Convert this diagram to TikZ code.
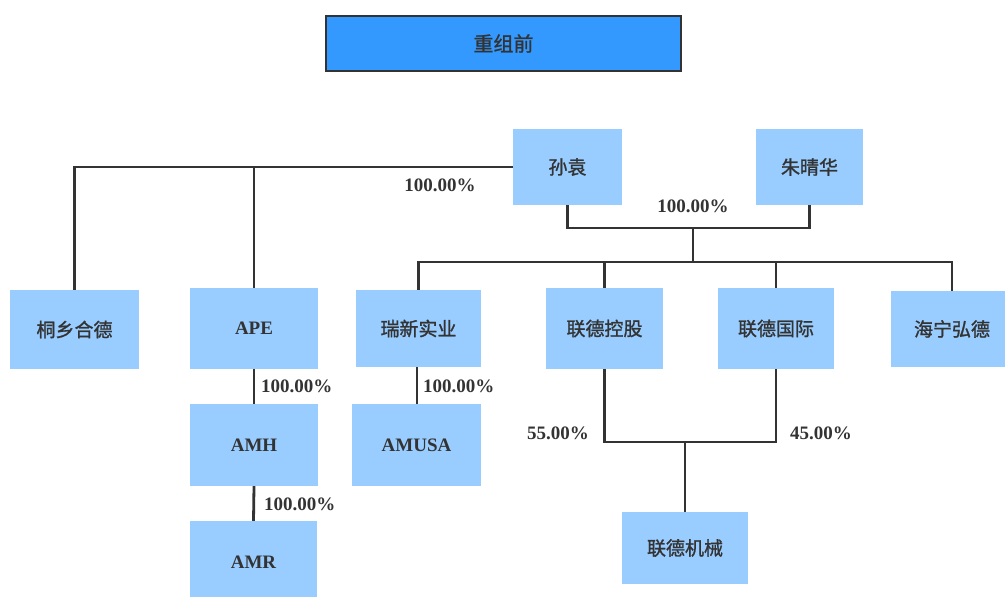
\documentclass[tikz,border=0pt]{standalone}
\usepackage{fontspec}
\setmainfont{Liberation Serif}
\newfontfamily\cjk[FakeBold=1.2]{Noto Sans CJK SC}
\definecolor{boxblue}{HTML}{99CCFF}
\definecolor{titleblue}{HTML}{3399FF}
\definecolor{inkgray}{HTML}{333333}

\tikzset{
  firm/.style={fill=boxblue, inner sep=0pt, text=inkgray, font=\cjk\fontsize{19}{19}\selectfont},
  enfirm/.style={firm, font=\bfseries\fontsize{19}{19}\selectfont},
  pct/.style={text=inkgray, inner sep=0pt, font=\bfseries\fontsize{19}{19}\selectfont},
  link/.style={draw=inkgray, line width=2.8pt}
}

\begin{document}
\begin{tikzpicture}[x=1pt,y=-1pt]
        \clip (0,0) rectangle (1005,597);
        \fill[white] (0,0) rectangle (1005,597);

        % Title
        \node[fill=titleblue, draw=inkgray, line width=2.5pt, minimum width=355pt, minimum height=55pt,
              text=inkgray, font=\cjk\fontsize{20}{20}\selectfont] (title) at (503.5,43.5) {重组前};

        % Owners
        \node[firm, minimum width=109pt, minimum height=76pt] (sun) at (567.5,167) {孙袁};
        \node[firm, minimum width=107pt, minimum height=76pt] (zhu) at (809.5,167) {朱晴华};

        % Second row
        \node[firm, minimum width=129pt, minimum height=79pt] (txhd) at (74.5,329.5) {桐乡合德};
        \node[enfirm, minimum width=128pt, minimum height=81pt] (ape) at (254,328.5) {APE};
        \node[firm, minimum width=125pt, minimum height=77pt] (rxsy) at (418.5,328.5) {瑞新实业};
        \node[firm, minimum width=117pt, minimum height=81pt] (ldkg) at (604.5,328.5) {联德控股};
        \node[firm, minimum width=116pt, minimum height=81pt] (ldgj) at (776,328.5) {联德国际};
        \node[firm, minimum width=122pt, minimum height=76pt] (nhhd) at (952,329) {海宁弘德};

        % Subsidiaries
        \node[enfirm, minimum width=128pt, minimum height=82pt] (amh) at (254,445) {AMH};
        \node[enfirm, minimum width=129pt, minimum height=82pt] (amusa) at (416.5,445) {AMUSA};
        \node[enfirm, minimum width=127pt, minimum height=82pt] (amr) at (253.5,562) {AMR};
        \node[firm, minimum width=126pt, minimum height=72pt] (ldjx) at (685,548) {联德机械};

        % Junctions
        \coordinate (jn) at (693,228);
        \coordinate (bus) at (693,262);
        \coordinate (mj) at (685,442);

        % Lines from Sun Yuan to the left
        \draw[link] (sun.west) -| (txhd.north);
        \draw[link] (ape.north) -- (ape.north |- sun.west);

        % Joint holding
        \draw[link] (sun.south) |- (jn) -| (zhu.south);
        \draw[link] (jn) -- (bus);
        \draw[link] (rxsy.north) |- (bus) -| (nhhd.north);
        \draw[link] (ldkg.north) -- (ldkg.north |- bus);
        \draw[link] (ldgj.north) -- (ldgj.north |- bus);

        % Lower chains
        \draw[link] (ape.south) -- (amh.north);
        \draw[link] (amh.south) -- (amr.north);
        \draw[link] (amusa.north -| 417,0) -- (rxsy.south -| 417,0);
        \draw[link] (ldkg.south) -- (ldkg.south |- mj) -- (ldgj.south |- mj) -- (ldgj.south);
        \draw[link] (mj) -- (ldjx.north);

        % Labels
        \node[pct] (p1) at (440,185) {100.00\%};
        \node[pct] (p2) at (693,206) {100.00\%};
        \node[pct, anchor=west] (p3) at (261,386) {100.00\%};
        \node[pct, anchor=west] (p4) at (423,386) {100.00\%};
        \node[pct, anchor=west] (p5) at (264,504) {100.00\%};
        \node[pct] (p6) at (558,433) {55.00\%};
        \node[pct] (p7) at (821,433) {45.00\%};
\end{tikzpicture}
\end{document}
